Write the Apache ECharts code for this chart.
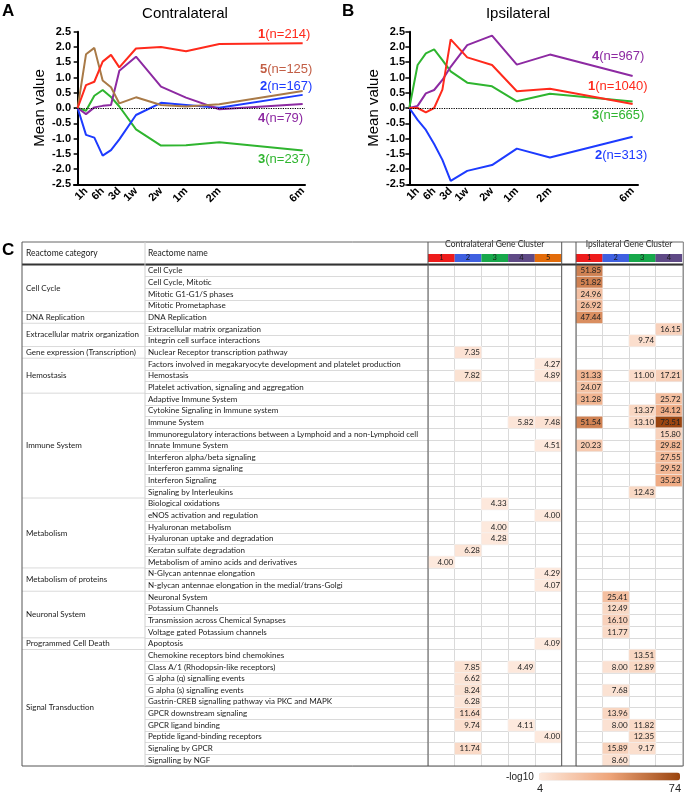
<!DOCTYPE html>
<html>
<head>
<meta charset="utf-8">
<script src="https://cdn.jsdelivr.net/npm/echarts@6/dist/echarts.min.js"></script>
<style>html,body{margin:0;padding:0;background:#fff}#c{width:685px;height:795px}</style>
</head>
<body>
<div id="c"></div>
<script>
// ---------- Panel A / B data ----------
const timeIdx = [0, 1, 2, 3, 4, 5, 7, 10, 13, 17, 27];
const tickIdx = [1, 3, 5, 7, 10, 13, 17, 27];
const tickNames = ['1h', '6h', '3d', '1w', '2w', '1m', '2m', '6m'];

const contra1 = [0, 0.75, 0.86, 1.52, 1.74, 1.33, 1.95, 2.00, 1.86, 2.10, 2.12];
const contra2 = [0, -0.88, -0.97, -1.56, -1.38, -1.03, -0.23, 0.17, 0.10, 0.01, 0.43];
const contra3 = [0, -0.09, 0.40, 0.59, 0.36, 0.05, -0.70, -1.23, -1.22, -1.12, -1.39];
const contra4 = [0, -0.20, 0.02, 0.07, 0.10, 1.22, 1.68, 0.70, 0.34, -0.04, 0.13];
const contra5 = [0, 1.76, 1.97, 0.90, 0.68, 0.15, 0.35, 0.10, 0.05, 0.12, 0.56];

const ipsi1 = [0, 0.00, -0.14, 0.00, 0.60, 2.25, 1.66, 1.41, 0.55, 0.63, 0.13];
const ipsi2 = [0, -0.39, -0.72, -1.18, -1.70, -2.39, -2.06, -1.87, -1.33, -1.62, -0.94];
const ipsi3 = [0, 1.41, 1.79, 1.92, 1.57, 1.20, 0.83, 0.71, 0.22, 0.47, 0.21];
const ipsi4 = [0, 0.07, 0.48, 0.59, 0.92, 1.35, 2.06, 2.37, 1.42, 1.75, 1.05];

const contraLabels = [['1', '(n=214)'], ['2', '(n=167)'], ['3', '(n=237)'], ['4', '(n=79)'], ['5', '(n=125)']];
const ipsiLabels = [['1', '(n=1040)'], ['2', '(n=313)'], ['3', '(n=665)'], ['4', '(n=967)']];

// ---------- Panel C data ----------
const catGroups = [
  ['Cell Cycle', 4], ['DNA Replication', 1], ['Extracellular matrix organization', 2],
  ['Gene expression (Transcription)', 1], ['Hemostasis', 3], ['Immune System', 9],
  ['Metabolism', 6], ['Metabolism of proteins', 2], ['Neuronal System', 4],
  ['Programmed Cell Death', 1], ['Signal Transduction', 10]
];
const rowNames = [
  'Cell Cycle', 'Cell Cycle, Mitotic', 'Mitotic G1-G1/S phases', 'Mitotic Prometaphase',
  'DNA Replication',
  'Extracellular matrix organization', 'Integrin cell surface interactions',
  'Nuclear Receptor transcription pathway',
  'Factors involved in megakaryocyte development and platelet production', 'Hemostasis', 'Platelet activation, signaling and aggregation',
  'Adaptive Immune System', 'Cytokine Signaling in Immune system', 'Immune System',
  'Immunoregulatory interactions between a Lymphoid and a non-Lymphoid cell', 'Innate Immune System',
  'Interferon alpha/beta signaling', 'Interferon gamma signaling', 'Interferon Signaling', 'Signaling by Interleukins',
  'Biological oxidations', 'eNOS activation and regulation', 'Hyaluronan metabolism', 'Hyaluronan uptake and degradation',
  'Keratan sulfate degradation', 'Metabolism of amino acids and derivatives',
  'N-Glycan antennae elongation', 'N-glycan antennae elongation in the medial/trans-Golgi',
  'Neuronal System', 'Potassium Channels', 'Transmission across Chemical Synapses', 'Voltage gated Potassium channels',
  'Apoptosis',
  'Chemokine receptors bind chemokines', 'Class A/1 (Rhodopsin-like receptors)', 'G alpha (q) signalling events',
  'G alpha (s) signalling events', 'Gastrin-CREB signalling pathway via PKC and MAPK', 'GPCR downstream signaling',
  'GPCR ligand binding', 'Peptide ligand-binding receptors', 'Signaling by GPCR', 'Signalling by NGF'
];
const contraClusters = ['1', '2', '3', '4', '5'];
const ipsiClusters = ['1', '2', '3', '4'];
const _ = null;
const contraValues = [
  [_, _, _, _, _], [_, _, _, _, _], [_, _, _, _, _], [_, _, _, _, _],
  [_, _, _, _, _],
  [_, _, _, _, _], [_, _, _, _, _],
  [_, 7.35, _, _, _],
  [_, _, _, _, 4.27], [_, 7.82, _, _, 4.89], [_, _, _, _, _],
  [_, _, _, _, _], [_, _, _, _, _], [_, _, _, 5.82, 7.48], [_, _, _, _, _], [_, _, _, _, 4.51],
  [_, _, _, _, _], [_, _, _, _, _], [_, _, _, _, _], [_, _, _, _, _],
  [_, _, 4.33, _, _], [_, _, _, _, 4.00], [_, _, 4.00, _, _], [_, _, 4.28, _, _], [_, 6.28, _, _, _], [4.00, _, _, _, _],
  [_, _, _, _, 4.29], [_, _, _, _, 4.07],
  [_, _, _, _, _], [_, _, _, _, _], [_, _, _, _, _], [_, _, _, _, _],
  [_, _, _, _, 4.09],
  [_, _, _, _, _], [_, 7.85, _, 4.49, _], [_, 6.62, _, _, _], [_, 8.24, _, _, _], [_, 6.28, _, _, _],
  [_, 11.64, _, _, _], [_, 9.74, _, 4.11, _], [_, _, _, _, 4.00], [_, 11.74, _, _, _], [_, _, _, _, _]
];
const ipsiValues = [
  [51.85, _, _, _], [51.82, _, _, _], [24.96, _, _, _], [26.92, _, _, _],
  [47.44, _, _, _],
  [_, _, _, 16.15], [_, _, 9.74, _],
  [_, _, _, _],
  [_, _, _, _], [31.33, _, 11.00, 17.21], [24.07, _, _, _],
  [31.28, _, _, 25.72], [_, _, 13.37, 34.12], [51.54, _, 13.10, 73.51], [_, _, _, 15.80], [20.23, _, _, 29.82],
  [_, _, _, 27.55], [_, _, _, 29.52], [_, _, _, 35.23], [_, _, 12.43, _],
  [_, _, _, _], [_, _, _, _], [_, _, _, _], [_, _, _, _], [_, _, _, _], [_, _, _, _],
  [_, _, _, _], [_, _, _, _],
  [_, 25.41, _, _], [_, 12.49, _, _], [_, 16.10, _, _], [_, 11.77, _, _],
  [_, _, _, _],
  [_, _, 13.51, _], [_, 8.00, 12.89, _], [_, _, _, _], [_, 7.68, _, _], [_, _, _, _],
  [_, 13.96, _, _], [_, 8.00, 11.82, _], [_, _, 12.35, _], [_, 15.89, 9.17, _], [_, 8.60, _, _]
];
const scaleMin = 4, scaleMax = 74;

// ---------- styling ----------
const lineColors = { red: '#ff2a1c', blue: '#1d3bff', green: '#2fb52f', purple: '#8d2aa2', brown: '#a97a47' };
const contraColors = [lineColors.red, lineColors.blue, lineColors.green, lineColors.purple, lineColors.brown];
const contraLabelColors = [lineColors.red, lineColors.blue, lineColors.green, lineColors.purple, '#c25e45'];
const ipsiColors = [lineColors.red, lineColors.blue, lineColors.green, lineColors.purple];
const clusterBoxColors = ['#ee1c1c', '#3f60e0', '#17a84b', '#5f4a86', '#e36c0a'];
const PF = 'Liberation Sans, Arial, sans-serif';
const TF = 'Lato, sans-serif';

function pairs(arr) { return timeIdx.map((t, i) => [t, arr[i]]); }

function lineSeries(arr, color, gi, withZero) {
  const s = {
    type: 'line', xAxisIndex: gi, yAxisIndex: gi, data: pairs(arr), symbol: 'none',
    lineStyle: { color: color, width: 2 }, itemStyle: { color: color }, silent: true, z: 3
  };
  if (withZero) {
    s.markLine = {
      silent: true, symbol: ['none', 'none'], label: { show: false },
      lineStyle: { type: 'dotted', color: '#000', width: 1.2 },
      data: [{ yAxis: 0 }]
    };
  }
  return s;
}

function panelX(gi, min, max) {
  return {
    gridIndex: gi, type: 'value', min: min, max: max,
    axisLine: { show: true, onZero: false, lineStyle: { color: '#000', width: 2 } },
    axisTick: { show: false },
    splitLine: { show: false },
    axisLabel: {
      customValues: tickIdx, rotate: 45, margin: 5,
      fontFamily: PF, fontWeight: 'bold', fontSize: 11, color: '#000',
      formatter: v => { const k = tickIdx.indexOf(v); return k >= 0 ? tickNames[k] : ''; }
    }
  };
}
function panelY(gi) {
  return {
    gridIndex: gi, type: 'value', min: -2.5, max: 2.5, interval: 0.5,
    name: 'Mean value', nameLocation: 'middle', nameGap: 27,
    nameTextStyle: { fontFamily: PF, fontSize: 15, color: '#000' },
    axisLine: { show: true, lineStyle: { color: '#000', width: 2 } },
    axisTick: { show: true, length: 4, lineStyle: { color: '#000', width: 1.5 } },
    splitLine: { show: false },
    axisLabel: { fontFamily: PF, fontWeight: 'bold', fontSize: 11, color: '#000', margin: 3, formatter: v => v.toFixed(1) }
  };
}

function heatData(vals) {
  const out = [];
  vals.forEach((row, r) => row.forEach((v, c) => { if (v !== null) out.push([c, r, v]); }));
  return out;
}
function clusterRich(n) {
  const rich = {};
  for (let i = 0; i < n; i++) {
    rich['c' + i] = {
      backgroundColor: clusterBoxColors[i], color: '#1a1a1a', width: 26.7, height: 8, lineHeight: 8,
      align: 'center', fontSize: 7.5, fontFamily: TF
    };
  }
  return rich;
}
function heatX(gi, cats, name) {
  return {
    gridIndex: gi, type: 'category', data: cats, position: 'top',
    name: name, nameLocation: 'middle', nameGap: 14,
    nameTextStyle: { fontFamily: TF, fontSize: 8.5, color: '#222' },
    axisLine: { show: false }, axisTick: { show: false },
    axisLabel: { interval: 0, margin: 3, formatter: (v, i) => '{c' + i + '|' + v + '}', rich: clusterRich(cats.length) },
    splitLine: { show: true, interval: 0, lineStyle: { color: '#dadada', width: 1 } }
  };
}
function heatY(gi) {
  return {
    gridIndex: gi, type: 'category', data: rowNames, inverse: true,
    axisLine: { show: false }, axisTick: { show: false }, axisLabel: { show: false },
    splitLine: { show: true, interval: 0, lineStyle: { color: '#dadada', width: 1 } }
  };
}
function heatSeries(gi, vals) {
  return {
    type: 'heatmap', xAxisIndex: gi, yAxisIndex: gi, data: heatData(vals),
    itemStyle: { borderColor: '#f4f4f4', borderWidth: 0.6 },
    label: {
      show: true, position: 'insideRight', distance: 2, fontFamily: TF, fontSize: 8, color: '#222',
      formatter: p => p.value[2].toFixed(2)
    },
    silent: true, z: 2
  };
}

// category groups -> [0, start, end]
const groupData = [];
(function () { let s = 0; catGroups.forEach(g => { groupData.push([0, s, s + g[1]]); s += g[1]; }); })();

const TBL_TOP = 242, TBL_BOT = 766, HDR_BOT = 264.5;
function vline(x, color, w) {
  return { type: 'line', z: 100, silent: true, shape: { x1: x, y1: TBL_TOP, x2: x, y2: TBL_BOT }, style: { stroke: color, lineWidth: w } };
}
function hline(y, color, w) {
  return { type: 'line', z: 100, silent: true, shape: { x1: 22, y1: y, x2: 683.3, y2: y }, style: { stroke: color, lineWidth: w } };
}
function txt(x, y, text, font, fill, align, extra) {
  return Object.assign({ type: 'text', x: x, y: y, z: 100, silent: true,
    style: { text: text, font: font, fill: fill, textAlign: align || 'left', textVerticalAlign: 'middle' } }, extra || {});
}
function nLabel(x, y, pair, color) {
  return {
    type: 'text', x: x, y: y, z: 100, silent: true,
    style: {
      text: '{b|' + pair[0] + '}{n|' + pair[1] + '}', textVerticalAlign: 'middle',
      rich: {
        b: { fontFamily: PF, fontSize: 13, fontWeight: 'bold', fill: color, color: color },
        n: { fontFamily: PF, fontSize: 13, fill: color, color: color }
      }
    }
  };
}

const option = {
  animation: false,
  backgroundColor: '#fff',
  grid: [
    { left: 74, top: 31.7, width: 231, height: 152.6 },
    { left: 408, top: 31.7, width: 230, height: 152.6 },
    { left: 22, top: 265, width: 123, height: 501 },
    { left: 145, top: 265, width: 283, height: 501 },
    { left: 428, top: 265, width: 133.5, height: 501 },
    { left: 576, top: 265, width: 107.3, height: 501 }
  ],
  xAxis: [
    panelX(0, -0.44, 27.28),
    panelX(1, -0.16, 27.65),
    { gridIndex: 2, type: 'value', min: 0, max: 1, show: false },
    { gridIndex: 3, type: 'value', min: 0, max: 1, show: false },
    heatX(4, contraClusters, 'Contralateral Gene Cluster'),
    heatX(5, ipsiClusters, 'Ipsilateral Gene Cluster')
  ],
  yAxis: [
    panelY(0),
    panelY(1),
    { gridIndex: 2, type: 'value', min: 0, max: rowNames.length, inverse: true, show: false },
    {
      gridIndex: 3, type: 'category', data: rowNames, inverse: true,
      axisLine: { show: false }, axisTick: { show: false },
      axisLabel: { interval: 0, inside: true, margin: 3, fontFamily: TF, fontSize: 8, color: '#1a1a1a' },
      splitLine: { show: true, interval: 0, lineStyle: { color: '#dadada', width: 1 } }
    },
    heatY(4),
    heatY(5)
  ],
  visualMap: {
    type: 'continuous', min: scaleMin, max: scaleMax, seriesIndex: [10, 11],
    orient: 'horizontal', left: 539, top: 772.5, itemWidth: 8, itemHeight: 141,
    calculable: false, text: null, padding: 0, showLabel: false,
    inRange: { color: ['#fde9dd', '#eea57a', '#9a440e'] }
  },
  series: [
    lineSeries(contra3, contraColors[2], 0, true),
    lineSeries(contra2, contraColors[1], 0),
    lineSeries(contra4, contraColors[3], 0),
    lineSeries(contra5, contraColors[4], 0),
    lineSeries(contra1, contraColors[0], 0),
    lineSeries(ipsi2, ipsiColors[1], 1, true),
    lineSeries(ipsi3, ipsiColors[2], 1),
    lineSeries(ipsi4, ipsiColors[3], 1),
    lineSeries(ipsi1, ipsiColors[0], 1),
    {
      type: 'custom', xAxisIndex: 2, yAxisIndex: 2, data: groupData, silent: true,
      encode: { x: 0, y: [1, 2] },
      renderItem: function (params, api) {
        const cs = params.coordSys;
        const yTop = api.coord([0, api.value(1)])[1];
        const yBot = api.coord([0, api.value(2)])[1];
        const children = [{
          type: 'text', x: cs.x + 4, y: (yTop + yBot) / 2,
          style: { text: catGroups[params.dataIndex][0], fontFamily: TF, fontSize: 8, fill: '#1a1a1a', textVerticalAlign: 'middle' }
        }];
        if (params.dataIndex < catGroups.length - 1) {
          children.push({ type: 'line', shape: { x1: cs.x, y1: yBot, x2: cs.x + cs.width, y2: yBot }, style: { stroke: '#dadada', lineWidth: 1 } });
        }
        return { type: 'group', children: children };
      }
    },
    heatSeries(4, contraValues),
    heatSeries(5, ipsiValues)
  ],
  graphic: [
    txt(2, 11, 'A', 'bold 17px ' + PF, '#000'),
    txt(342, 11, 'B', 'bold 17px ' + PF, '#000'),
    txt(2, 250, 'C', 'bold 17px ' + PF, '#000'),
    txt(185, 14, 'Contralateral', '15px ' + PF, '#000', 'center'),
    txt(518, 14, 'Ipsilateral', '15px ' + PF, '#000', 'center'),
    nLabel(258, 34, contraLabels[0], contraLabelColors[0]),
    nLabel(260, 69, contraLabels[4], contraLabelColors[4]),
    nLabel(260, 86, contraLabels[1], contraLabelColors[1]),
    nLabel(258, 118, contraLabels[3], contraLabelColors[3]),
    nLabel(258, 159, contraLabels[2], contraLabelColors[2]),
    nLabel(592, 56, ipsiLabels[3], ipsiColors[3]),
    nLabel(588, 86, ipsiLabels[0], ipsiColors[0]),
    nLabel(592, 115, ipsiLabels[2], ipsiColors[2]),
    nLabel(595, 155, ipsiLabels[1], ipsiColors[1]),
    // table frame
    hline(TBL_TOP, '#666', 1),
    hline(HDR_BOT, '#333', 2),
    hline(TBL_BOT, '#555', 1),
    vline(22, '#555', 1),
    vline(145, '#d0d0d0', 1),
    vline(428, '#555', 1),
    vline(561.7, '#555', 1),
    vline(576, '#555', 1),
    vline(683.3, '#777', 1),
    txt(26, 253, 'Reactome category', '8.5px ' + TF, '#1a1a1a'),
    txt(148, 253, 'Reactome name', '8.5px ' + TF, '#1a1a1a'),
    // colour scale texts
    txt(506, 777, '-log10', '10px ' + PF, '#222'),
    txt(540, 789, '4', '11px ' + PF, '#222', 'center'),
    txt(681, 789, '74', '11px ' + PF, '#222', 'right')
  ]
};

const chart = echarts.init(document.getElementById('c'), null, { renderer: 'canvas' });
chart.setOption(option);
</script>
</body>
</html>
